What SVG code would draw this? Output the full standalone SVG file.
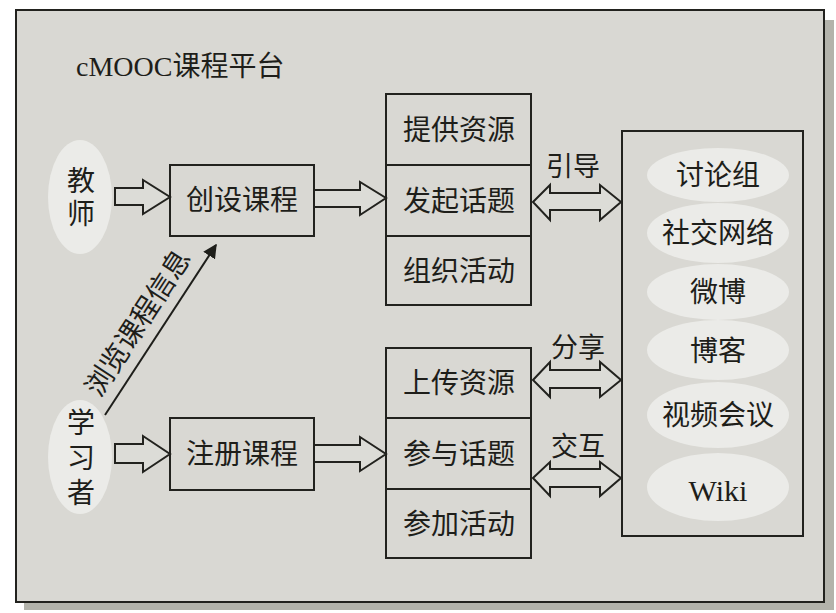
<svg xmlns="http://www.w3.org/2000/svg" width="836" height="613" viewBox="0 0 836 613">
<style>
.t{font-family:"Liberation Serif","Noto Sans CJK SC",serif;font-size:28px;fill:#1e1e1a;text-anchor:middle;dominant-baseline:central}
.box{fill:#d9d8d3;stroke:#22221e;stroke-width:2}
.ba{fill:#dcdcd7;stroke:#22221e;stroke-width:2;stroke-linejoin:miter}
.el{fill:#ebebe8;stroke:none}
</style>
<defs>
<marker id="ah" viewBox="0 0 10 10" refX="9" refY="5" markerWidth="7" markerHeight="7" orient="auto" markerUnits="strokeWidth">
<path d="M0,0 L10,5 L0,10 Z" fill="#1e1e1a"/>
</marker>
</defs>
<rect x="0" y="0" width="836" height="613" fill="#ffffff"/>
<rect x="24" y="20" width="810" height="590" fill="#b3b3ab"/>
<rect id="frame" x="16" y="10" width="808" height="592" fill="#d9d8d3" stroke="#22221e" stroke-width="2"/>
<text id="title" x="76" y="76" style="font-family:'Liberation Serif','Noto Sans CJK SC',serif;font-size:28px;fill:#1e1e1a">cMOOC课程平台</text>

<g id="teacher">
<ellipse class="el" cx="80" cy="197" rx="32" ry="57"/>
<text class="t" x="81" y="181">教</text>
<text class="t" x="81" y="214">师</text>
</g>
<g id="learner">
<ellipse class="el" cx="80" cy="457" rx="32" ry="57"/>
<text class="t" x="81" y="423">学</text>
<text class="t" x="81" y="458">习</text>
<text class="t" x="81" y="493">者</text>
</g>
<g id="create">
<rect class="box" x="170" y="165" width="144" height="71"/>
<text class="t" x="242" y="200">创设课程</text>
</g>
<g id="register">
<rect class="box" x="170" y="418" width="144" height="72"/>
<text class="t" x="242" y="454">注册课程</text>
</g>
<g id="teacher-col">
<rect class="box" x="386" y="94" width="145" height="71"/>
<text class="t" x="459" y="130">提供资源</text>
<rect class="box" x="386" y="165" width="145" height="71"/>
<text class="t" x="459" y="201">发起话题</text>
<rect class="box" x="386" y="236" width="145" height="69"/>
<text class="t" x="459" y="271">组织活动</text>
</g>
<g id="learner-col">
<rect class="box" x="386" y="348" width="145" height="70"/>
<text class="t" x="459" y="383">上传资源</text>
<rect class="box" x="386" y="418" width="145" height="71"/>
<text class="t" x="459" y="454">参与话题</text>
<rect class="box" x="386" y="489" width="145" height="69"/>
<text class="t" x="459" y="524">参加活动</text>
</g>
<g id="tools">
<rect class="box" x="622" y="131" width="181" height="405"/>
<ellipse class="el" cx="718" cy="175" rx="71" ry="27"/>
<text class="t" x="718" y="175">讨论组</text>
<ellipse class="el" cx="718" cy="233" rx="71" ry="30"/>
<text class="t" x="718" y="233">社交网络</text>
<ellipse class="el" cx="718" cy="292" rx="71" ry="28"/>
<text class="t" x="718" y="292">微博</text>
<ellipse class="el" cx="718" cy="350" rx="71" ry="30"/>
<text class="t" x="718" y="351">博客</text>
<ellipse class="el" cx="718" cy="415" rx="71" ry="33"/>
<text class="t" x="718" y="415">视频会议</text>
<ellipse class="el" cx="718" cy="487" rx="71" ry="34"/>
<text class="t" x="718" y="490" style="font-size:30px">Wiki</text>
</g>

<g id="connectors">
<path class="ba" d="M115,188 H143 V180 L170,197 L143,214 V205 H115 Z"/>
<path class="ba" d="M314,190 H360 V182 L386,198 L360,215 V207 H314 Z"/>
<path class="ba" d="M115,444 H143 V436 L170,454 L143,472 V463 H115 Z"/>
<path class="ba" d="M314,445 H360 V437 L386,454 L360,471 V462 H314 Z"/>
<path class="ba" d="M533,202 L550,185 V193 H600 V185 L621,202 L600,220 V210 H550 V220 Z"/>
<path class="ba" d="M533,380 L550,362 V370 H600 V362 L621,380 L600,397 V388 H550 V397 Z"/>
<path class="ba" d="M533,478 L550,462 V469 H600 V462 L621,478 L600,496 V487 H550 V496 Z"/>
<line x1="105" y1="415" x2="216" y2="245" stroke="#1e1e1a" stroke-width="2" marker-end="url(#ah)"/>
<text class="t" x="573" y="167" style="font-size:27px">引导</text>
<text class="t" x="578" y="348" style="font-size:27px">分享</text>
<text class="t" x="578" y="447" style="font-size:27px">交互</text>
<text class="t" transform="translate(138,323) rotate(-57)" x="0" y="0" style="font-size:28px">浏览课程信息</text>
</g>
</svg>
